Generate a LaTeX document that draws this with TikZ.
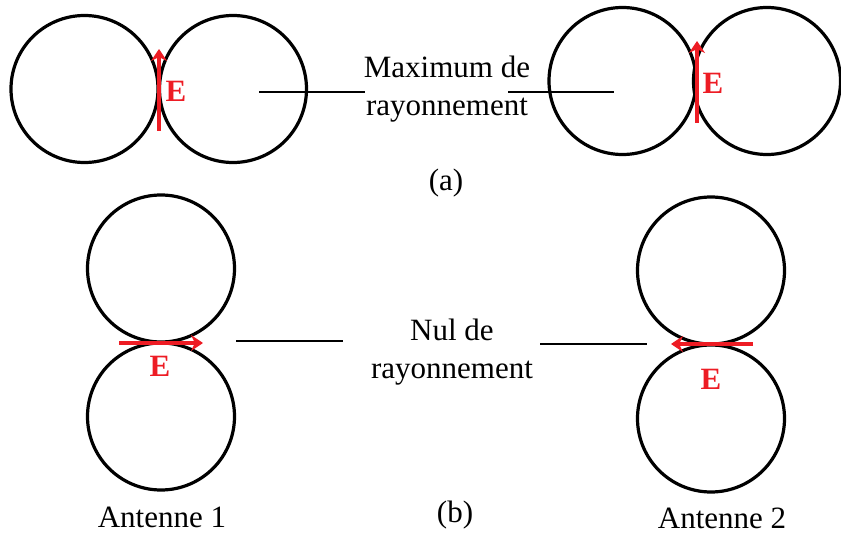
\documentclass[tikz,border=0pt]{standalone}
\usepackage{fontspec}
\setmainfont{Liberation Serif}
\usepackage{tikz}
\usetikzlibrary{
  arrows.meta,
  positioning
}
\definecolor{fieldred}{RGB}{237,28,36}
\tikzset{
  lobe/.style={
    circle,
    draw=black,
    line width=3.2pt,
    minimum size=147pt,
    inner sep=0pt
  },
  fieldarrow/.style={draw=fieldred,line width=3.2pt,-{Stealth[length=12pt,width=16pt]}},
  fieldlabel/.style={text=fieldred,font=\fontsize{31}{34}\selectfont\bfseries,inner sep=0pt},
  caption/.style={font=\fontsize{31}{38}\selectfont,align=center,inner sep=0pt},
  leader/.style={draw=black,line width=1.6pt},
}

\begin{document}
\begin{tikzpicture}[x=1pt,y=-1pt]
  \useasboundingbox (0,0) rectangle (841,537);
  % (a) maximum de rayonnement
  \node[lobe] (aoneL) at (84.5,89) {};
  \node[lobe] (aoneR) at (233,89) {};
  \node[lobe] (atwoL) at (622.5,81) {};
  \node[lobe] (atwoR) at (767,81) {};
  \coordinate (Eaone0) at (159,131);
  \coordinate (Eaone1) at (159,49);
  \coordinate (Eatwo0) at (697,123);
  \coordinate (Eatwo1) at (697,41);
  \draw[fieldarrow] (Eaone0) -- (Eaone1);
  \draw[fieldarrow] (Eatwo0) -- (Eatwo1);
  \node[fieldlabel] (Eaone) at (176,91) {E};
  \node[fieldlabel] (Eatwo) at (713,83) {E};
  \node[caption] (maxtxt) at (447,89) {Maximum de\\rayonnement};
  \coordinate (maxA) at (259,92);
  \coordinate (maxB) at (365,92);
  \coordinate (maxC) at (508,92);
  \coordinate (maxD) at (614,92);
  \draw[leader] (maxA) -- (maxB);
  \draw[leader] (maxC) -- (maxD);
  \node[caption] (capa) at (446,183) {(a)};

  % (b) nul de rayonnement
  \node[lobe] (boneT) at (161,268.5) {};
  \node[lobe] (boneB) at (161,416.5) {};
  \node[lobe] (btwoT) at (711,270.5) {};
  \node[lobe] (btwoB) at (711,418.5) {};
  \coordinate (Ebone0) at (119,343);
  \coordinate (Ebone1) at (203,343);
  \coordinate (Ebtwo0) at (753,344);
  \coordinate (Ebtwo1) at (671,344);
  \draw[fieldarrow] (Ebone0) -- (Ebone1);
  \draw[fieldarrow] (Ebtwo0) -- (Ebtwo1);
  \node[fieldlabel] (Ebone) at (160,366) {E};
  \node[fieldlabel] (Ebtwo) at (711,379) {E};
  \node[caption] (nultxt) at (452,352) {Nul de\\rayonnement};
  \coordinate (nulA) at (236,341);
  \coordinate (nulB) at (343,341);
  \coordinate (nulC) at (540,344);
  \coordinate (nulD) at (647,344);
  \draw[leader] (nulA) -- (nulB);
  \draw[leader] (nulC) -- (nulD);
  \node[caption] (capb) at (455,515) {(b)};
  \node[caption] (antone) at (162,517) {Antenne 1};
  \node[caption] (anttwo) at (722,518) {Antenne 2};
\end{tikzpicture}
\end{document}
